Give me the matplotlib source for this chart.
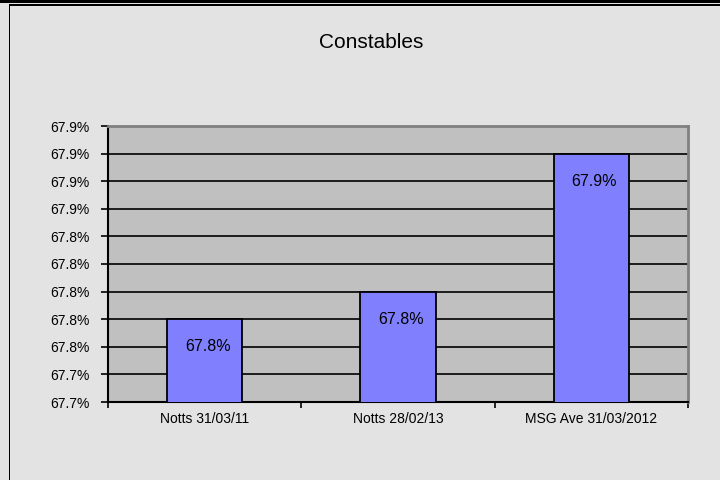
import matplotlib.pyplot as plt
from matplotlib.patches import Rectangle
from matplotlib.ticker import MultipleLocator, FormatStrFormatter, FixedLocator

categories = ['Notts 31/03/11', 'Notts 28/02/13', 'MSG Ave 31/03/2012']
values = [67.78, 67.80, 67.90]
bar_labels = ['67.8%', '67.8%', '67.9%']
title = 'Constables'

plt.rcParams['font.family'] = ['Liberation Sans', 'DejaVu Sans']

fig = plt.figure(figsize=(7.2, 4.8), dpi=100, facecolor='#e3e3e3')
W, H = 720, 480

# cadre façon Excel
fig.add_artist(Rectangle((0, 1 - 3 / H), 1, 3 / H, transform=fig.transFigure,
                         color='black', lw=0))
fig.add_artist(Rectangle((8.5 / W, 1 - 5.7 / H), 1, 1.7 / H, transform=fig.transFigure,
                         color='black', lw=0))
fig.add_artist(Rectangle((8.5 / W, 0), 1.6 / W, 1 - 4 / H, transform=fig.transFigure,
                         color='black', lw=0))

ax = fig.add_axes([108 / W, 1 - 402 / H, 580 / W, 276 / H])
ax.set_facecolor('#c0c0c0')

x = list(range(len(categories)))
bars = ax.bar(x, values, width=0.39, color='#8080ff', edgecolor='black',
              linewidth=1.3, zorder=3)

for bar, lab in zip(bars, bar_labels):
    ax.annotate(lab, (bar.get_x() + bar.get_width() / 2 + 0.016, bar.get_height()),
                xytext=(0, -20), textcoords='offset points',
                ha='center', va='center', fontsize=11.5, zorder=4)

ax.set_xlim(-0.5, 2.5)
ax.set_ylim(67.72, 67.92)
ax.yaxis.set_major_locator(MultipleLocator(0.02))
ax.yaxis.set_major_formatter(FormatStrFormatter('%.1f%%'))
ax.grid(axis='y', color='black', linewidth=1.2, zorder=1)

ax.set_xticks(x)
ax.set_xticklabels(categories, fontsize=10)
ax.xaxis.set_minor_locator(FixedLocator([-0.5, 0.5, 1.5, 2.5]))
ax.tick_params(axis='x', which='major', length=0, pad=7)
ax.tick_params(axis='x', which='minor', length=4, width=1.2, direction='out')
ax.tick_params(axis='y', length=5, width=1.2, direction='out', pad=8.5, labelsize=10)

for s in ['left', 'bottom']:
    ax.spines[s].set_color('black')
    ax.spines[s].set_linewidth(1.5)
for s in ['top', 'right']:
    ax.spines[s].set_color('#808080')
    ax.spines[s].set_linewidth(2)

fig.text(371.5 / W, 1 - 47.5 / H, title, ha='center', va='baseline', fontsize=15)

fig.savefig('out.png', dpi=100, facecolor=fig.get_facecolor())
